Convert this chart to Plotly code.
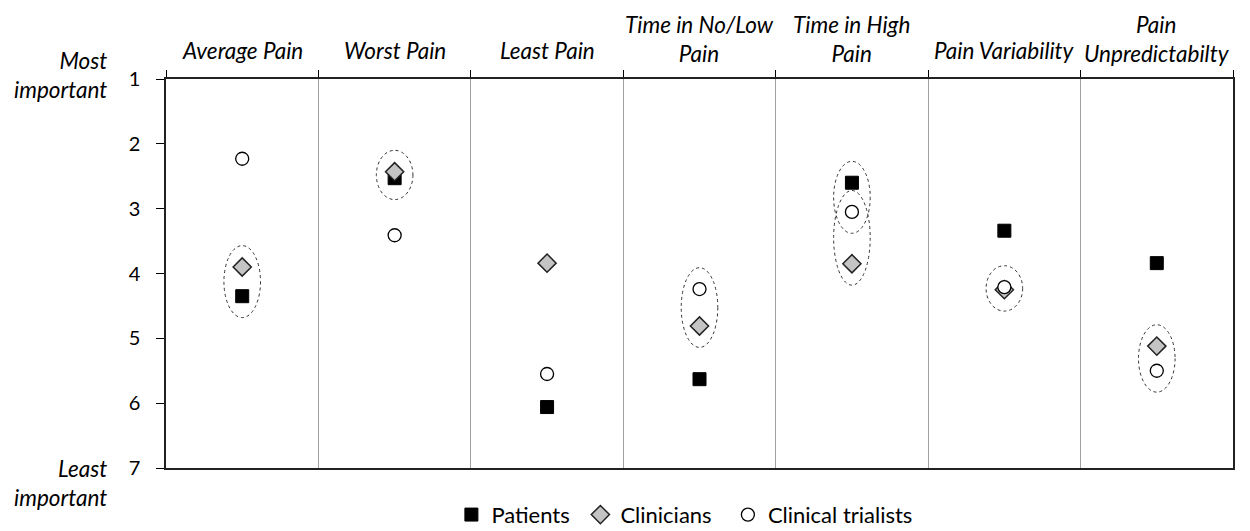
import plotly.graph_objects as go

categories = ["Average Pain", "Worst Pain", "Least Pain", "Time in No/Low<br>Pain",
              "Time in High<br>Pain", "Pain Variability", "Pain<br>Unpredictabilty"]
patients = [4.35, 2.53, 6.06, 5.63, 2.60, 3.34, 3.84]
clinicians = [3.90, 2.43, 3.84, 4.81, 3.85, 4.25, 5.12]
trialists = [2.23, 3.41, 5.55, 4.24, 3.05, 4.21, 5.50]
ytick_vals = [1, 2, 3, 4, 5, 6, 7]
# groups circled with dashed ellipses: (category index, series pair)
groups = [(0, ("clinicians", "patients")), (1, ("clinicians", "patients")),
          (3, ("trialists", "clinicians")), (4, ("patients", "trialists")),
          (4, ("trialists", "clinicians")), (5, ("trialists", "clinicians")),
          (6, ("clinicians", "trialists"))]

series = {"patients": patients, "clinicians": clinicians, "trialists": trialists}
xs = list(range(len(categories)))
FONT = "Lato, 'Open Sans', sans-serif"
HFS = 22.5

fig = go.Figure()
fig.add_trace(go.Scatter(x=xs, y=patients, mode="markers", name="Patients\u00a0",
                         marker=dict(symbol="square", size=13, color="black",
                                     line=dict(color="black", width=1))))
fig.add_trace(go.Scatter(x=xs, y=clinicians, mode="markers", name="Clinicians\u00a0\u00a0",
                         marker=dict(symbol="diamond", size=14, color="#c4c4c4",
                                     line=dict(color="#222222", width=1.5))))
fig.add_trace(go.Scatter(x=xs, y=trialists, mode="markers", name="Clinical trialists",
                         marker=dict(symbol="circle", size=13, color="white",
                                     line=dict(color="black", width=1.3))))

pad = 0.33
for idx, (a, b) in groups:
    v1, v2 = series[a][idx], series[b][idx]
    lo, hi = min(v1, v2), max(v1, v2)
    fig.add_shape(type="circle", xref="x", yref="y",
                  x0=idx - 0.12, x1=idx + 0.12, y0=lo - pad, y1=hi + pad,
                  line=dict(color="#333333", width=1, dash="dot"), layer="below")

for i, c in enumerate(categories):
    two = "<br>" in c
    fig.add_annotation(x=i, y=1, xref="x", yref="paper", yanchor="middle",
                       yshift=40 if two else 29, text="<i>" + c + "</i>",
                       showarrow=False, font=dict(size=HFS, color="black", family=FONT))

side_labels = [("Most<br>important", 1, 4), ("Least<br>important", 0, -15)]
for txt, yp, ys in side_labels:
    fig.add_annotation(x=0, y=yp, xref="paper", yref="paper", xanchor="right",
                       yanchor="middle", xshift=-57, yshift=ys, align="right",
                       text="<i>" + txt + "</i>", showarrow=False,
                       font=dict(size=HFS, color="black", family=FONT))

bounds = [i - 0.5 for i in range(len(categories) + 1)]
fig.update_layout(
    width=1242, height=523,
    margin=dict(l=158, r=17, t=71, b=63, autoexpand=False),
    plot_bgcolor="white", paper_bgcolor="white",
    font=dict(family=FONT, size=20, color="black"),
    showlegend=True,
    legend=dict(orientation="h", xref="container", yref="container",
                x=0.357, xanchor="left", y=0.031, yanchor="middle",
                font=dict(size=22, family=FONT), itemwidth=30, tracegroupgap=0),
    xaxis=dict(range=[-0.5, len(categories) - 0.5], side="top", tickvals=bounds,
               showticklabels=False, ticks="outside", ticklen=7, tickcolor="black",
               showgrid=True, gridcolor="#a0a0a0", gridwidth=1.3,
               showline=True, linecolor="#222222", linewidth=1.5, mirror=True,
               zeroline=False),
    yaxis=dict(range=[7, 1], tickvals=ytick_vals, ticks="outside", ticklen=8,
               tickcolor="black", showgrid=False, showline=True,
               linecolor="#222222", linewidth=1.5, mirror=True, zeroline=False,
               tickfont=dict(size=20), ticklabelstandoff=12),
)

fig.write_html("out.html")
